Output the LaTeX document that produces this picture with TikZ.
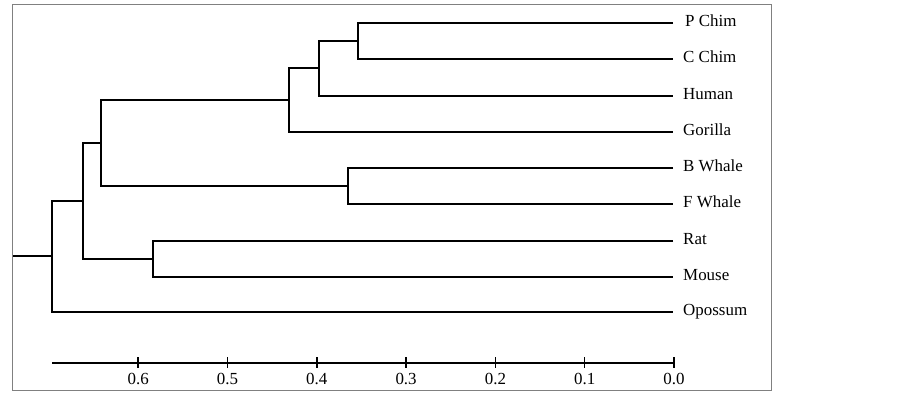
\documentclass[tikz,border=0pt]{standalone}
\usepackage{fontspec}
\setmainfont{Liberation Serif}
\begin{document}
\begin{tikzpicture}[x=1bp,y=-1bp,
  branch/.style={line width=1.4bp},
  leaf/.style={anchor=base west,inner sep=0pt,font=\fontsize{17}{19}\selectfont},
  ticklabel/.style={anchor=base,inner sep=0pt,font=\fontsize{17}{19}\selectfont}]

\useasboundingbox (0,0) rectangle (903,395);

% Frame
\draw[gray,line width=0.8bp] (12,4) rectangle (771,390);

% Leaf tips
\coordinate (tPC) at (673,23);
\coordinate (tCC) at (673,59);
\coordinate (tHu) at (673,96);
\coordinate (tGo) at (673,132);
\coordinate (tBW) at (673,168);
\coordinate (tFW) at (673,204);
\coordinate (tRa) at (673,241);
\coordinate (tMo) at (673,277);
\coordinate (tOp) at (673,312);

% Leaf labels
\node[leaf] (pchim) at ([shift={(12,3)}]tPC) {P Chim};
\node[leaf] (cchim) at ([shift={(10,3)}]tCC) {C Chim};
\node[leaf] (human) at ([shift={(10,3)}]tHu) {Human};
\node[leaf] (gorilla) at ([shift={(10,3)}]tGo) {Gorilla};
\node[leaf] (bwhale) at ([shift={(10,3)}]tBW) {B Whale};
\node[leaf] (fwhale) at ([shift={(10,3)}]tFW) {F Whale};
\node[leaf] (rat) at ([shift={(10,3)}]tRa) {Rat};
\node[leaf] (mouse) at ([shift={(10,3)}]tMo) {Mouse};
\node[leaf] (opossum) at ([shift={(10,3)}]tOp) {Opossum};

% Internal nodes
\coordinate (n1) at (358,41);
\coordinate (n2) at (319,68);
\coordinate (n3) at (289,100);
\coordinate (n4) at (348,186);
\coordinate (n5) at (101,143);
\coordinate (n6) at (153,259);
\coordinate (n7) at (83,201);
\coordinate (root) at (52,256);
\coordinate (stem) at (13,256);

% Branches
\draw[branch] (tPC) -| (n1) |- (tCC);
\draw[branch] (n1) -| (n2) |- (tHu);
\draw[branch] (n2) -| (n3) |- (tGo);
\draw[branch] (tBW) -| (n4) |- (tFW);
\draw[branch] (n3) -| (n5) |- (n4);
\draw[branch] (tRa) -| (n6) |- (tMo);
\draw[branch] (n5) -| (n7) |- (n6);
\draw[branch] (n7) -| (root) |- (tOp);
\draw[branch] (root) -- (stem);

% Distance scale
\draw[branch] (52,363) -- (674,363);
\foreach \v in {0.0,0.1,0.2,0.3,0.4,0.5,0.6} {
  \draw[branch] ({674-\v*893},357) -- ({674-\v*893},368);
  \node[ticklabel] at ({674-\v*893},384) {\v};
}

\end{tikzpicture}
\end{document}
